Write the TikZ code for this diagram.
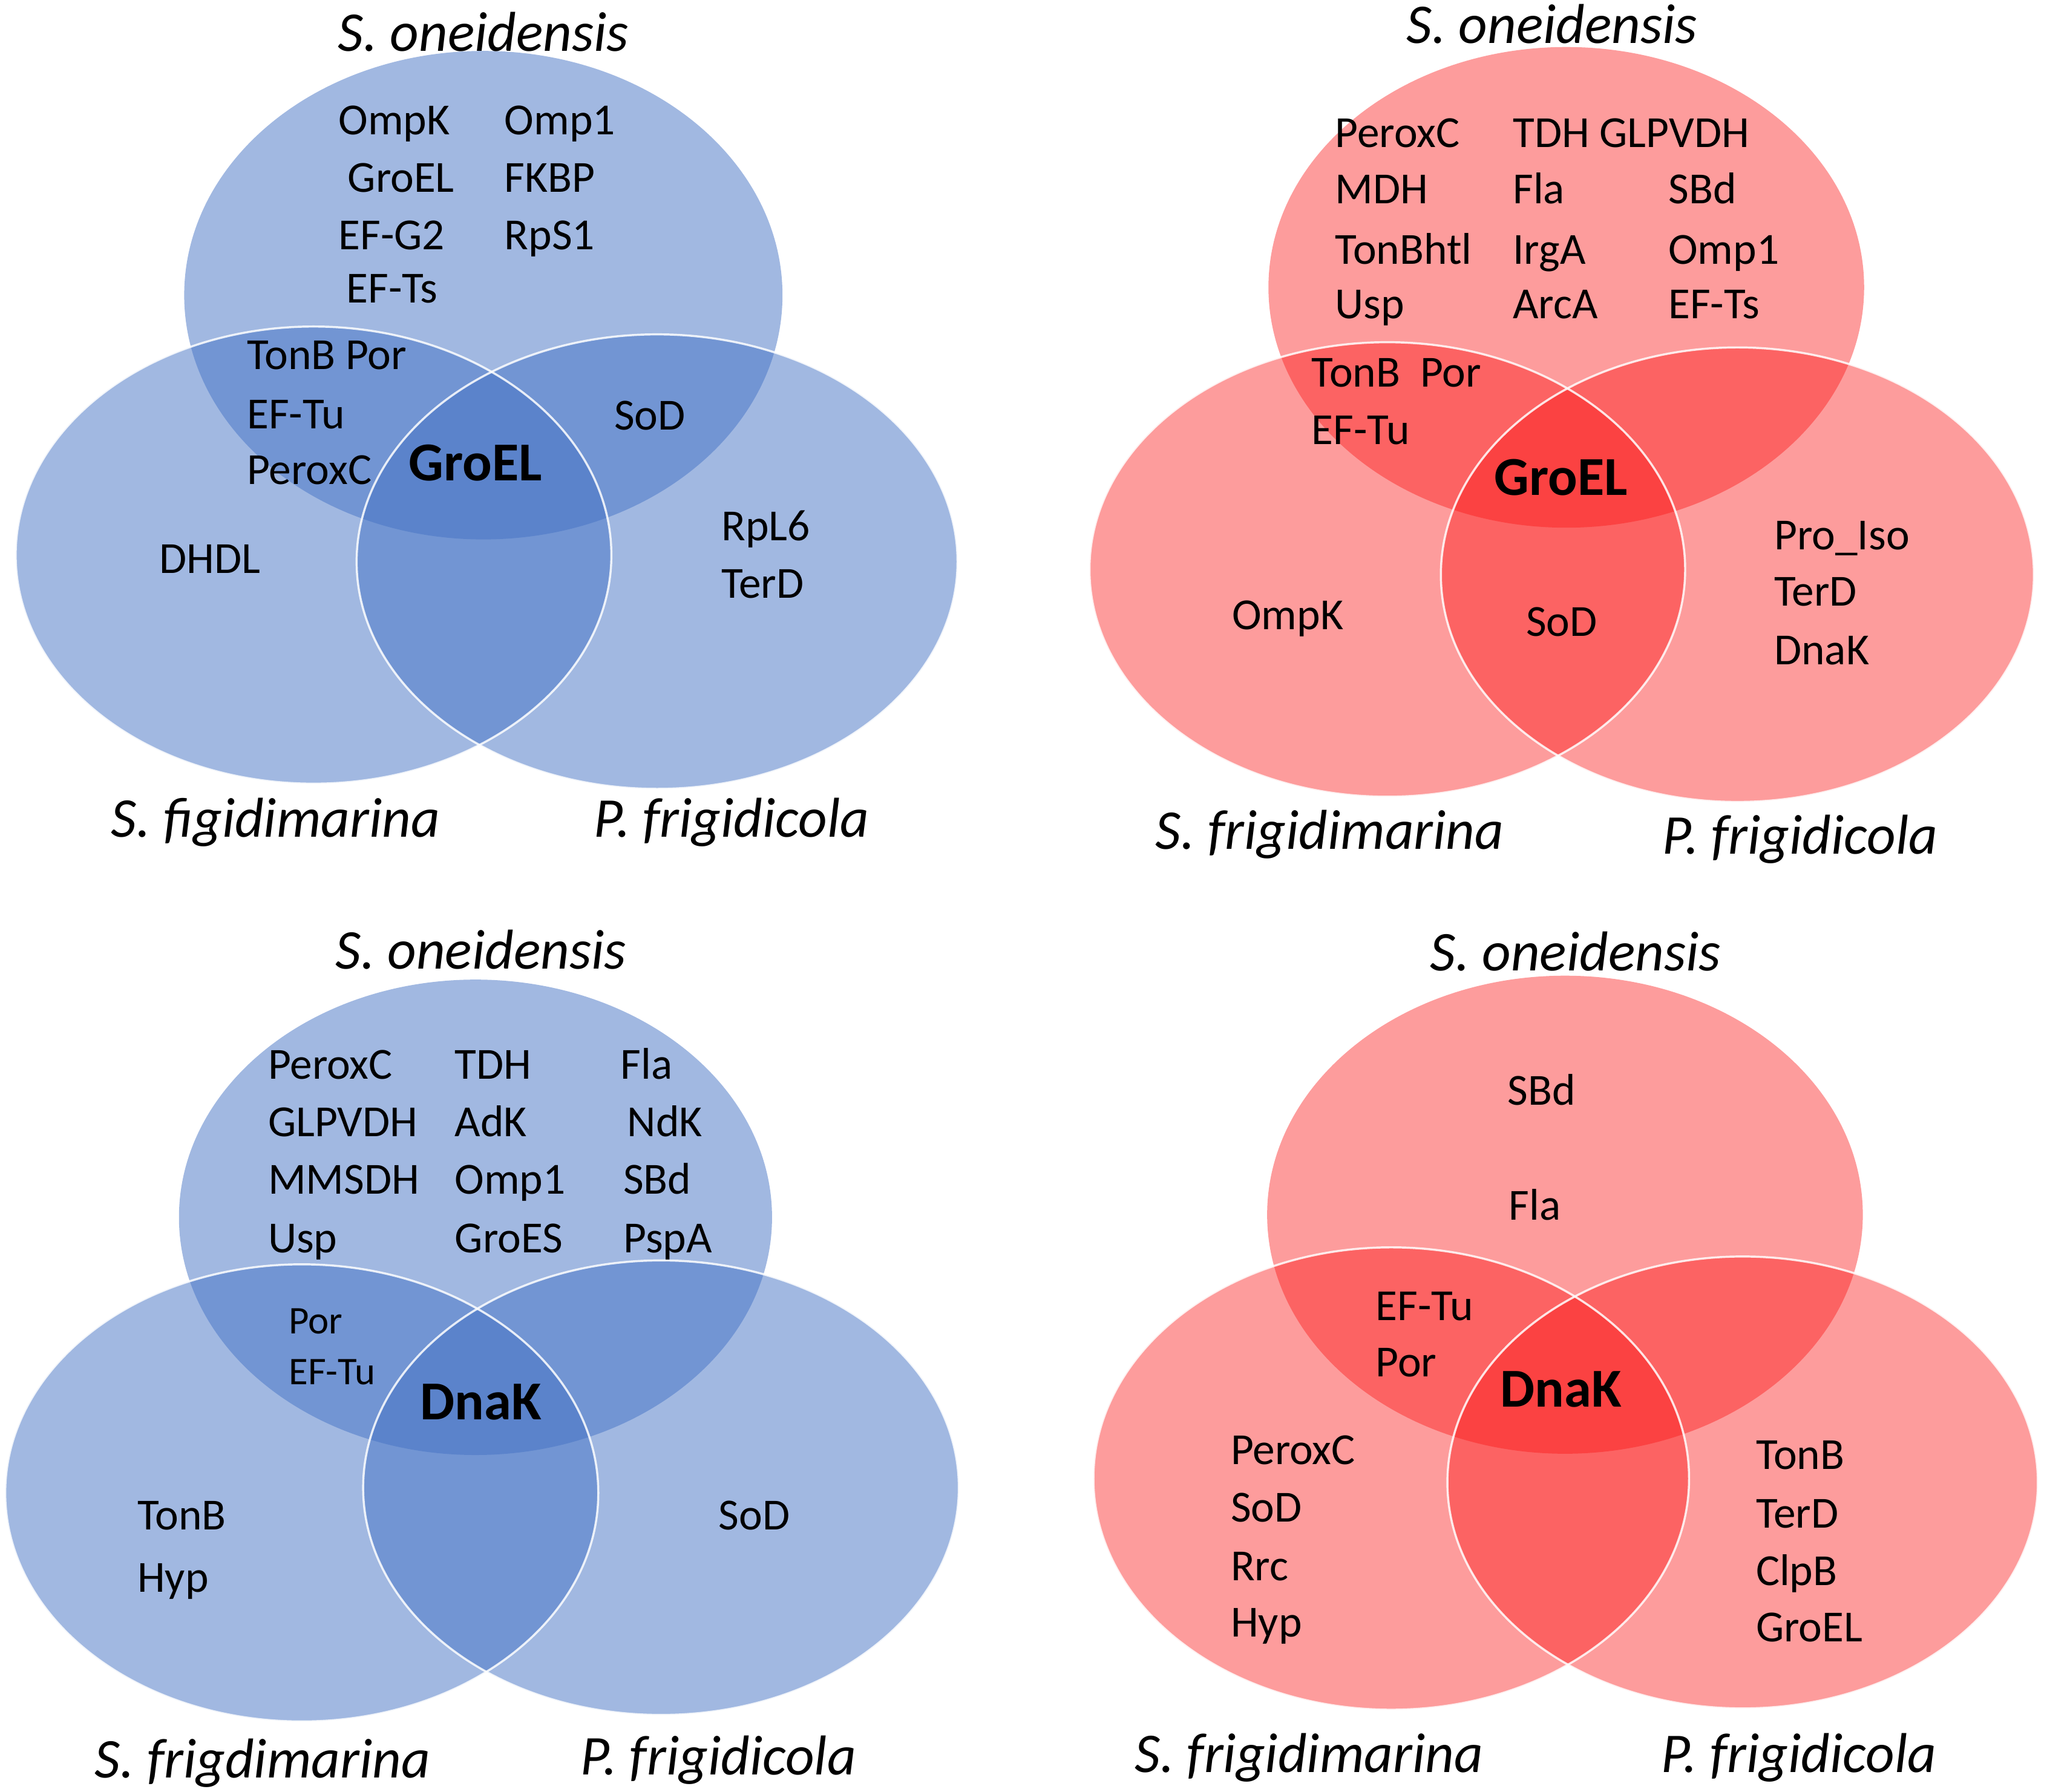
\documentclass[tikz,border=0pt]{standalone}
\usepackage{fontspec}
\setmainfont{Carlito}
\definecolor{vblue}{RGB}{68,114,196}
\definecolor{vred}{RGB}{250,20,20}
\tikzset{
  bset/.style={fill=vblue, fill opacity=0.5},
  rset/.style={fill=vred, fill opacity=0.42},
  rim/.style={draw=white, draw opacity=0.85, line width=1.6pt},
  gene/.style={anchor=base west, inner sep=0pt, font=\fontsize{34}{40}\selectfont},
  genec/.style={anchor=base, inner sep=0pt, font=\fontsize{34}{40}\selectfont},
  genes/.style={anchor=base west, inner sep=0pt, font=\fontsize{30}{36}\selectfont},
  core/.style={anchor=base, inner sep=0pt, font=\bfseries\fontsize{42}{48}\selectfont},
  species/.style={anchor=base, inner sep=0pt, font=\itshape\fontsize{43}{50}\selectfont},
}
\begin{document}
\begin{tikzpicture}[x=1pt, y=-1pt]
\useasboundingbox (0,0) rectangle (1567,1372);
% ---------- Panel 1 (blue, GroEL) ----------
\path[bset] (370,226) ellipse [x radius=229pt, y radius=187pt];
\path[bset] (240,425) ellipse [x radius=228pt, y radius=175pt];
\path[bset] (503,430) ellipse [x radius=230pt, y radius=174pt];
\path[rim] (240,425) ellipse [x radius=228pt, y radius=175pt];
\path[rim] (503,430) ellipse [x radius=230pt, y radius=174pt];
\node[species] (a0) at (370,39) {S. oneidensis};
\node[species] (a1) at (211,641) {S. figidimarina};
\node[species] (a2) at (560,641) {P. frigidicola};
\node[gene] (a3) at (259,103) {OmpK};
\node[gene] (a4) at (386,103) {Omp1};
\node[gene] (a5) at (266,147) {GroEL};
\node[gene] (a6) at (386,147) {FKBP};
\node[gene] (a7) at (259,191) {EF-G2};
\node[gene] (a8) at (386,191) {RpS1};
\node[gene] (a9) at (265,232) {EF-Ts};
\node[gene] (a10) at (189,283) {TonB Por};
\node[gene] (a11) at (189,328) {EF-Tu};
\node[gene] (a12) at (189,371) {PeroxC};
\node[core] (a13) at (364,368) {GroEL};
\node[gene] (a14) at (470,329) {SoD};
\node[gene] (a15) at (122,439) {DHDL};
\node[gene] (a16) at (552,414) {RpL6};
\node[gene] (a17) at (552,458) {TerD};
% ---------- Panel 2 (red, GroEL) ----------
\path[rset] (1199,220) ellipse [x radius=228pt, y radius=184pt];
\path[rset] (1062,436) ellipse [x radius=228pt, y radius=174pt];
\path[rset] (1330,440) ellipse [x radius=227pt, y radius=174pt];
\path[rim] (1062,436) ellipse [x radius=228pt, y radius=174pt];
\path[rim] (1330,440) ellipse [x radius=227pt, y radius=174pt];
\node[species] (b0) at (1188,33) {S. oneidensis};
\node[species] (b1) at (1018,650) {S. frigidimarina};
\node[species] (b2) at (1378,654) {P. frigidicola};
\node[gene] (b3) at (1022,113) {PeroxC};
\node[gene] (b4) at (1158,113) {TDH GLPVDH};
\node[gene] (b5) at (1022,156) {MDH};
\node[gene] (b6) at (1158,156) {Fla};
\node[gene] (b7) at (1277,156) {SBd};
\node[gene] (b8) at (1022,202) {TonBhtl};
\node[gene] (b9) at (1158,202) {IrgA};
\node[gene] (b10) at (1277,202) {Omp1};
\node[gene] (b11) at (1022,244) {Usp};
\node[gene] (b12) at (1158,244) {ArcA};
\node[gene] (b13) at (1277,244) {EF-Ts};
\node[gene] (b14) at (1004,296) {TonB\hspace{0.45em}Por};
\node[gene] (b15) at (1004,340) {EF-Tu};
\node[core] (b16) at (1195,379) {GroEL};
\node[gene] (b17) at (943,482) {OmpK};
\node[gene] (b18) at (1168,487) {SoD};
\node[gene] (b19) at (1358,421) {Pro\_Iso};
\node[gene] (b20) at (1358,464) {TerD};
\node[gene] (b21) at (1358,509) {DnaK};
% ---------- Panel 3 (blue, DnaK) ----------
\path[bset] (364,932) ellipse [x radius=227pt, y radius=182pt];
\path[bset] (231,1143) ellipse [x radius=227pt, y radius=175pt];
\path[bset] (506,1139) ellipse [x radius=228pt, y radius=174pt];
\path[rim] (231,1143) ellipse [x radius=227pt, y radius=175pt];
\path[rim] (506,1139) ellipse [x radius=228pt, y radius=174pt];
\node[species] (c0) at (368,742) {S. oneidensis};
\node[species] (c1) at (201,1361) {S. frigdimarina};
\node[species] (c2) at (550,1359) {P. frigidicola};
\node[gene] (c3) at (205,826) {PeroxC};
\node[gene] (c4) at (348,826) {TDH};
\node[gene] (c5) at (475,826) {Fla};
\node[gene] (c6) at (205,870) {GLPVDH};
\node[gene] (c7) at (348,870) {AdK};
\node[gene] (c8) at (480,870) {NdK};
\node[gene] (c9) at (205,914) {MMSDH};
\node[gene] (c10) at (348,914) {Omp1};
\node[gene] (c11) at (477,914) {SBd};
\node[gene] (c12) at (205,959) {Usp};
\node[gene] (c13) at (348,959) {GroES};
\node[gene] (c14) at (477,959) {PspA};
\node[genes] (c15) at (221,1021) {Por};
\node[genes] (c16) at (221,1060) {EF-Tu};
\node[core] (c17) at (368,1087) {DnaK};
\node[gene] (c18) at (105,1171) {TonB};
\node[gene] (c19) at (105,1219) {Hyp};
\node[gene] (c20) at (550,1171) {SoD};
% ---------- Panel 4 (red, DnaK) ----------
\path[rset] (1198,930) ellipse [x radius=228pt, y radius=183pt];
\path[rset] (1065,1132) ellipse [x radius=228pt, y radius=177pt];
\path[rset] (1334,1135) ellipse [x radius=226pt, y radius=173pt];
\path[rim] (1065,1132) ellipse [x radius=228pt, y radius=177pt];
\path[rim] (1334,1135) ellipse [x radius=226pt, y radius=173pt];
\node[species] (d0) at (1206,743) {S. oneidensis};
\node[species] (d1) at (1002,1357) {S. frigidimarina};
\node[species] (d2) at (1377,1357) {P. frigidicola};
\node[genec] (d3) at (1180,846) {SBd};
\node[genec] (d4) at (1175,934) {Fla};
\node[gene] (d5) at (1053,1011) {EF-Tu};
\node[gene] (d6) at (1053,1054) {Por};
\node[core] (d7) at (1195,1077) {DnaK};
\node[gene] (d8) at (942,1121) {PeroxC};
\node[gene] (d9) at (942,1165) {SoD};
\node[gene] (d10) at (942,1210) {Rrc};
\node[gene] (d11) at (942,1253) {Hyp};
\node[gene] (d12) at (1344,1125) {TonB};
\node[gene] (d13) at (1344,1170) {TerD};
\node[gene] (d14) at (1344,1214) {ClpB};
\node[gene] (d15) at (1344,1257) {GroEL};
\end{tikzpicture}
\end{document}
